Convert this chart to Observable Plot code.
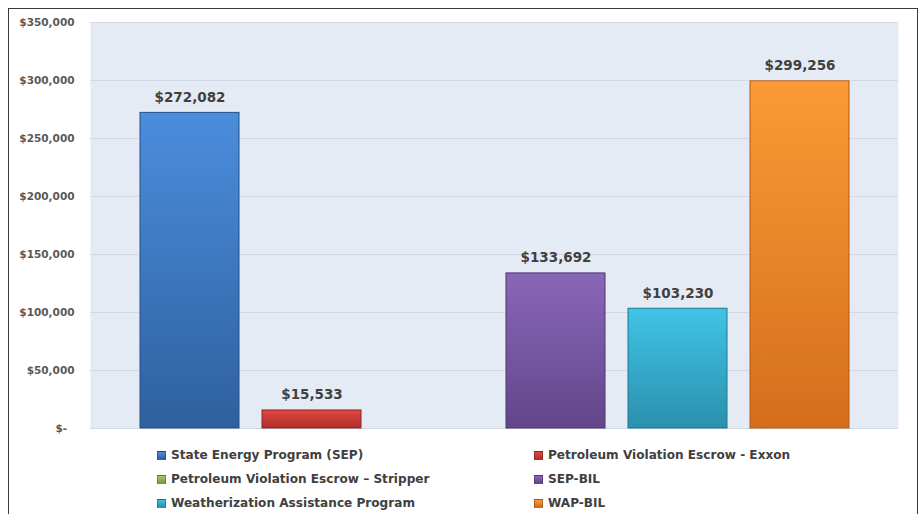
<!DOCTYPE html>
<html>
<head>
<meta charset="utf-8">
<script src="https://cdn.jsdelivr.net/npm/d3@7"></script>
<script src="https://cdn.jsdelivr.net/npm/@observablehq/plot@0.6"></script>
<style>
  body { margin: 0; background: #fff; font-family: "DejaVu Sans", Verdana, sans-serif; }
  #wrap { position: relative; width: 921px; height: 514px; overflow: hidden; }
  #border { position: absolute; left: 8px; top: 8px; width: 910px; height: 520px; border: 1.5px solid #3a3a3a; pointer-events: none; box-sizing: border-box; }
  #legend { position: absolute; left: 157px; top: 446px; display: grid; grid-template-columns: 377px 300px; row-gap: 6px; font-weight: bold; font-size: 12.1px; color: #404040; }
  .item { display: flex; align-items: center; height: 18px; white-space: nowrap; }
  .sw { width: 9px; height: 9px; margin-right: 5px; border: 1px solid rgba(0,0,0,0.25); box-sizing: border-box; }
</style>
</head>
<body>
<div id="wrap">
  <div id="chart"></div>
  <div id="legend"></div>
  <div id="border"></div>
</div>
<script>
const programs = [
  "State Energy Program (SEP)",
  "Petroleum Violation Escrow - Exxon",
  "Petroleum Violation Escrow – Stripper",
  "SEP-BIL",
  "Weatherization Assistance Program",
  "WAP-BIL"
];
const amounts = [272082, 15533, null, 133692, 103230, 299256];
const topColors = ["#4b8ddc", "#e0453f", "#a8c964", "#8a66b8", "#40c4e6", "#fb9a36"];
const bottomColors = ["#2f609f", "#ae2f2b", "#7c9a44", "#62468a", "#2b90ad", "#d46e1c"];
const edgeColors = ["#25508a", "#8f2522", "#66803a", "#4e376f", "#1f7690", "#b05a16"];
const yTicks = [0, 50000, 100000, 150000, 200000, 250000, 300000, 350000];

const data = programs.map((p, i) => ({program: p, amount: amounts[i], i}));
const barData = data.filter(d => d.amount != null);
const fmt = d3.format(",");

const chart = Plot.plot({
  width: 921,
  height: 440,
  marginTop: 22,
  marginBottom: 12,
  marginLeft: 90,
  marginRight: 23,
  style: {fontFamily: "DejaVu Sans, Verdana, sans-serif", background: "transparent"},
  x: {domain: programs, paddingInner: 0.19, paddingOuter: 0.4, axis: null},
  y: {domain: [0, 350000], ticks: yTicks, label: null},
  color: {type: "identity"},
  marks: [
    Plot.frame({fill: "#e5ebf5", stroke: null}),
    Plot.ruleY(yTicks, {stroke: "#d2d9e4", strokeWidth: 1}),
    Plot.axisY({
      ticks: yTicks,
      tickSize: 0,
      tickPadding: 16,
      fontSize: 10.5,
      fontWeight: "bold",
      fill: "#595959",
      tickFormat: d => d === 0 ? "$-  " : "$" + fmt(d),
      label: null
    }),
    Plot.barY(barData, {
      x: "program",
      y: "amount",
      fill: d => `url(#grad${d.i})`,
      stroke: d => edgeColors[d.i],
      strokeWidth: 1
    }),
    Plot.tickY(barData, {
      x: "program",
      y: "amount",
      stroke: d => topColors[d.i],
      strokeWidth: 3,
      strokeOpacity: 0.9,
      dy: 2,
      insetLeft: 2,
      insetRight: 2
    }),
    Plot.text(barData, {
      x: "program",
      y: "amount",
      text: d => "$" + fmt(d.amount),
      lineAnchor: "bottom",
      dy: -11,
      fontSize: 13.5,
      fontWeight: "bold",
      fill: "#404040"
    })
  ]
});

const svg = d3.select(chart);
const defs = svg.insert("defs", ":first-child");
programs.forEach((p, i) => {
  const g = defs.append("linearGradient").attr("id", `grad${i}`).attr("x1", 0).attr("y1", 0).attr("x2", 0).attr("y2", 1);
  g.append("stop").attr("offset", "0%").attr("stop-color", topColors[i]);
  g.append("stop").attr("offset", "100%").attr("stop-color", bottomColors[i]);
});
document.getElementById("chart").appendChild(chart);

const legend = document.getElementById("legend");
programs.forEach((p, i) => {
  const item = document.createElement("div");
  item.className = "item";
  const sw = document.createElement("span");
  sw.className = "sw";
  sw.style.background = `linear-gradient(${topColors[i]}, ${bottomColors[i]})`;
  const t = document.createElement("span");
  t.textContent = p;
  item.appendChild(sw);
  item.appendChild(t);
  legend.appendChild(item);
});
</script>
</body>
</html>
